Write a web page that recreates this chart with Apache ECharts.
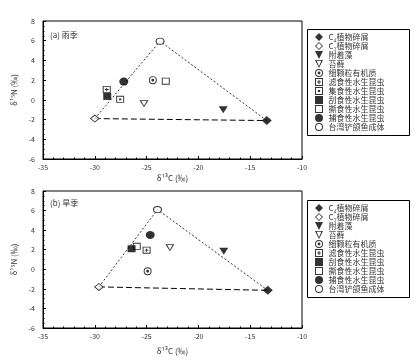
<!DOCTYPE html>
<html><head><meta charset="utf-8">
<script src="https://cdn.jsdelivr.net/npm/echarts@6/dist/echarts.min.js"></script>
<style>html,body{margin:0;padding:0;background:#fff}#c{width:417px;height:360px}</style>
</head><body><div id="c"></div>
<script>
// ---- data ----
var xTicks = [-35, -30, -25, -20, -15, -10];
var yTicks = [-6, -4, -2, 0, 2, 4, 6, 8];
var panelTitles = ['(a) 雨季', '(b) 旱季'];
var xName = 'δ¹³C (‰)';
var yName = 'δ¹⁵N (‰)';

var namesA = ['C₄植物碎屑','C₃植物碎屑','附着藻','苔藓','细颗粒有机质','滤食性水生昆虫','集食性水生昆虫','刮食性水生昆虫','撕食性水生昆虫','捕食性水生昆虫','台湾铲颌鱼成体'];
var valuesA = [[-13.4,-2.1],[-30.0,-1.9],[-17.6,-1.0],[-25.25,-0.4],[-24.4,2.0],[-28.85,1.05],[-27.55,0.05],[-28.8,0.35],[-23.15,1.9],[-27.2,1.85],[-23.7,5.95]];

var namesB = ['C₄植物碎屑','C₃植物碎屑','附着藻','苔藓','细颗粒有机质','滤食性水生昆虫','刮食性水生昆虫','撕食性水生昆虫','捕食性水生昆虫','台湾铲颌鱼成体'];
var valuesB = [[-13.3,-2.15],[-29.6,-1.8],[-17.55,1.85],[-22.75,2.2],[-24.9,-0.2],[-25.0,1.95],[-26.45,2.1],[-25.95,2.35],[-24.65,3.5],[-23.95,6.1]];

// ---- symbols ----
var SQ_OPEN = 'M0 0 H100 V100 H0 Z M12 12 V88 H88 V12 Z';
var CIRC = 'M0 50 A50 50 0 1 1 100 50 A50 50 0 1 1 0 50 Z';
var SYM = {
  'C₄植物碎屑': 'path://M50 0 L100 50 L50 100 L0 50 Z',
  'C₃植物碎屑': 'path://M50 0 L100 50 L50 100 L0 50 Z M50 14 L14 50 L50 86 L86 50 Z',
  '附着藻': 'path://M0 0 H100 L50 100 Z',
  '苔藓': 'path://M0 0 H100 L50 100 Z M20 10 L50 78 L80 10 Z',
  '细颗粒有机质': 'path://' + CIRC + ' M12 50 A38 38 0 1 0 88 50 A38 38 0 1 0 12 50 Z M32 50 A18 18 0 1 1 68 50 A18 18 0 1 1 32 50 Z',
  '滤食性水生昆虫': 'path://' + SQ_OPEN + ' M44 26 H56 V44 H74 V56 H56 V74 H44 V56 H26 V44 H44 Z',
  '集食性水生昆虫': 'path://' + SQ_OPEN + ' M36 36 H64 V64 H36 Z',
  '刮食性水生昆虫': 'path://M0 0 H100 V100 H0 Z',
  '撕食性水生昆虫': 'path://' + SQ_OPEN,
  '捕食性水生昆虫': 'path://' + CIRC,
  '台湾铲颌鱼成体': 'path://' + CIRC + ' M12 50 A38 38 0 1 0 88 50 A38 38 0 1 0 12 50 Z'
};
var SIZE = {
  'C₄植物碎屑': [10, 9], 'C₃植物碎屑': [10, 8], '附着藻': [9, 7], '苔藓': [9, 7],
  '细颗粒有机质': [8, 8], '滤食性水生昆虫': [8, 7], '集食性水生昆虫': [8, 7],
  '刮食性水生昆虫': [8, 7], '撕食性水生昆虫': [8, 7], '捕食性水生昆虫': [9, 8], '台湾铲颌鱼成体': [9, 7]
};

var FONT = 'Noto Sans CJK SC';
var grids = [
  {left: 43, top: 21, width: 259, height: 138},
  {left: 43, top: 191, width: 259, height: 137}
];

function xAxis(i, gap) {
  return {
    gridIndex: i, type: 'value', min: xTicks[0], max: xTicks[xTicks.length - 1], interval: 5,
    name: xName, nameLocation: 'middle', nameGap: gap,
    nameTextStyle: {fontFamily: FONT, fontSize: 8, color: '#333'},
    axisLine: {show: true, onZero: false, lineStyle: {color: '#000', width: 1}},
    axisTick: {show: true, inside: true, length: 3, lineStyle: {color: '#000'}},
    minorTick: {show: true, splitNumber: 5, length: 1.5, lineStyle: {color: '#000'}},
    axisLabel: {fontFamily: FONT, fontSize: 7, color: '#333', margin: 5},
    splitLine: {show: false}
  };
}
function yAxis(i) {
  return {
    gridIndex: i, type: 'value', min: yTicks[0], max: yTicks[yTicks.length - 1], interval: 2,
    name: yName, nameLocation: 'middle', nameGap: 24, nameRotate: 90,
    nameTextStyle: {fontFamily: FONT, fontSize: 8, color: '#333'},
    axisLine: {show: true, onZero: false, lineStyle: {color: '#000', width: 1}},
    axisTick: {show: true, inside: true, length: 3, lineStyle: {color: '#000'}},
    minorTick: {show: true, splitNumber: 4, length: 1.5, lineStyle: {color: '#000'}},
    axisLabel: {fontFamily: FONT, fontSize: 7, color: '#333', margin: 8},
    splitLine: {show: false}
  };
}

var series = [];
function addPanel(idx, names, values) {
  var vals = {};
  names.forEach(function (n, k) { vals[n] = values[k]; });
  var c3 = vals['C₃植物碎屑'], c4 = vals['C₄植物碎屑'], top = vals['台湾铲颌鱼成体'];
  series.push({
    type: 'line', name: '_tri' + idx, xAxisIndex: idx, yAxisIndex: idx, z: 1,
    data: [c3, top, c4], showSymbol: false, silent: true,
    lineStyle: {color: '#000', width: 0.8, type: [2, 2]}
  });
  series.push({
    type: 'line', name: '_base' + idx, xAxisIndex: idx, yAxisIndex: idx, z: 1,
    data: [c3, c4], showSymbol: false, silent: true,
    lineStyle: {color: '#000', width: 1, type: [6, 3]}
  });
  series.push({
    type: 'scatter', name: '_bgc' + idx, xAxisIndex: idx, yAxisIndex: idx, z: 2, silent: true,
    symbol: 'circle', symbolSize: SIZE['台湾铲颌鱼成体'], data: [top],
    itemStyle: {color: '#fff'}
  });
  series.push({
    type: 'scatter', name: '_bgd' + idx, xAxisIndex: idx, yAxisIndex: idx, z: 2, silent: true,
    symbol: 'diamond', symbolSize: SIZE['C₃植物碎屑'], data: [c3],
    itemStyle: {color: '#fff'}
  });
  names.forEach(function (n) {
    series.push({
      type: 'scatter', name: n, xAxisIndex: idx, yAxisIndex: idx, z: 3,
      symbol: SYM[n], symbolSize: SIZE[n], data: [vals[n]],
      itemStyle: {color: '#000'}
    });
  });
}
addPanel(0, namesA, valuesA);
addPanel(1, namesB, valuesB);

function legend(names, top) {
  return {
    orient: 'vertical', left: 310, top: top,
    itemWidth: 9, itemHeight: 8, itemGap: 1,
    padding: [3, 0, 5, 5],
    selectedMode: false,
    textStyle: {fontFamily: FONT, fontSize: 8, color: '#333'},
    data: names.map(function (n) { return {name: n, icon: SYM[n]}; })
  };
}

var option = {
  animation: false,
  backgroundColor: '#fff',
  grid: grids.map(function (g) {
    return Object.assign({show: true, borderColor: '#000', borderWidth: 1, backgroundColor: 'transparent'}, g);
  }),
  graphic: [
    {type: 'rect', shape: {x: 307.5, y: 29.5, width: 102, height: 106}, style: {fill: 'none', stroke: '#000', lineWidth: 1}, silent: true},
    {type: 'rect', shape: {x: 307.5, y: 200.5, width: 102, height: 97}, style: {fill: 'none', stroke: '#000', lineWidth: 1}, silent: true}
  ],
  title: [
    {text: panelTitles[0], left: 45, top: 26, textStyle: {fontFamily: FONT, fontSize: 8, fontWeight: 'normal', color: '#333'}},
    {text: panelTitles[1], left: 45, top: 194, textStyle: {fontFamily: FONT, fontSize: 8, fontWeight: 'normal', color: '#333'}}
  ],
  xAxis: [xAxis(0, 15), xAxis(1, 19)],
  yAxis: [yAxis(0), yAxis(1)],
  legend: [legend(namesA, 30), legend(namesB, 201)],
  series: series
};
var chart = echarts.init(document.getElementById('c'), null, {renderer: 'canvas'});
chart.setOption(option);
</script></body></html>
